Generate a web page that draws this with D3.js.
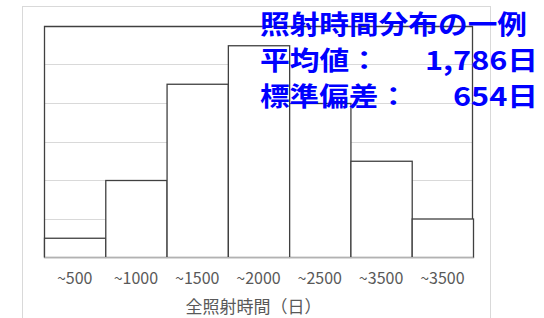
<!DOCTYPE html>
<html><head><meta charset="utf-8">
<script src="https://cdn.jsdelivr.net/npm/d3@7"></script>
<style>body{margin:0;background:#fff}svg{display:block}</style>
</head><body>
<script>
const categories = ["~500","~1000","~1500","~2000","~2500","~3500","~3500"];
const counts = [0.5, 2.0, 4.5, 5.5, 4.0, 2.5, 1.0];
const gridValues = [1, 2, 3, 4, 5];
const axisTitle = "全照射時間（日）";
const noteLines = [
  {label: "照射時間分布の一例", value: ""},
  {label: "平均値：", value: "1,786日"},
  {label: "標準偏差：", value: "654日"}
];

const W = 544, H = 318;
const svg = d3.select("body").append("svg").attr("width", W).attr("height", H);
const m = {left: 44, right: 473, top: 26, bottom: 257};

// outer chart frame
svg.append("rect").attr("x", 22.5).attr("y", 6.5).attr("width", 468).attr("height", 330)
  .attr("fill", "#fff").attr("stroke", "#d9d9d9").attr("stroke-width", 1);

const x = d3.scaleBand().domain(d3.range(categories.length)).range([m.left, m.right]).padding(0);
const y = d3.scaleLinear().domain([0, 6]).range([m.bottom, m.top]);

// gridlines
svg.append("g").selectAll("line").data(gridValues).join("line")
  .attr("x1", m.left).attr("x2", m.right)
  .attr("y1", d => Math.round(y(d)) + 0.5).attr("y2", d => Math.round(y(d)) + 0.5)
  .attr("stroke", "#d9d9d9").attr("stroke-width", 1);

// plot border (top, left, right)
svg.append("path")
  .attr("d", `M${m.left+0.5},${m.bottom}V${m.top+0.5}H${m.right-0.5}V${m.bottom}`)
  .attr("fill", "none").attr("stroke", "#404040").attr("stroke-width", 1.3);

// bars
svg.append("g").selectAll("rect").data(counts).join("rect")
  .attr("x", (d, i) => x(i) + 0.5)
  .attr("y", d => y(d) + 0.5)
  .attr("width", x.bandwidth())
  .attr("height", d => m.bottom - y(d))
  .attr("fill", "#fff").attr("stroke", "#404040").attr("stroke-width", 1.3);

// x axis
const xAxis = d3.axisBottom(x).tickFormat(i => categories[i]).tickSize(0).tickPadding(15);
const gx = svg.append("g").attr("transform", `translate(0,${m.bottom + 0.5})`).call(xAxis);
gx.select(".domain").attr("stroke", "#d9d9d9").attr("stroke-width", 1.3);
gx.selectAll("text").attr("fill", "#595959")
  .style("font-family", "'Noto Sans CJK JP', 'Noto Sans', sans-serif").style("font-size", "16px");

svg.append("text").attr("x", (m.left + m.right) / 2 - 5).attr("y", 313)
  .attr("text-anchor", "middle").attr("fill", "#595959")
  .style("font-family", "'Noto Sans CJK JP', sans-serif").style("font-size", "17px")
  .text(axisTitle);

// annotation
const note = svg.append("g").style("font-family", "'Noto Sans CJK JP', sans-serif")
  .style("font-size", "26px").style("font-weight", "bold").attr("fill", "#0000ff");
const baseY = [34, 70, 106];
const labelLen = [267, 119, 148];
const valueStart = [0, 425, 453];
const valueLen = [0, 113, 85];
noteLines.forEach((ln, i) => {
  note.append("text").attr("x", 260).attr("y", baseY[i])
    .attr("textLength", labelLen[i]).attr("lengthAdjust", "spacingAndGlyphs").text(ln.label);
  if (ln.value) {
    note.append("text").attr("x", valueStart[i]).attr("y", baseY[i])
      .attr("textLength", valueLen[i]).attr("lengthAdjust", "spacingAndGlyphs").text(ln.value);
  }
});
</script>
</body></html>
